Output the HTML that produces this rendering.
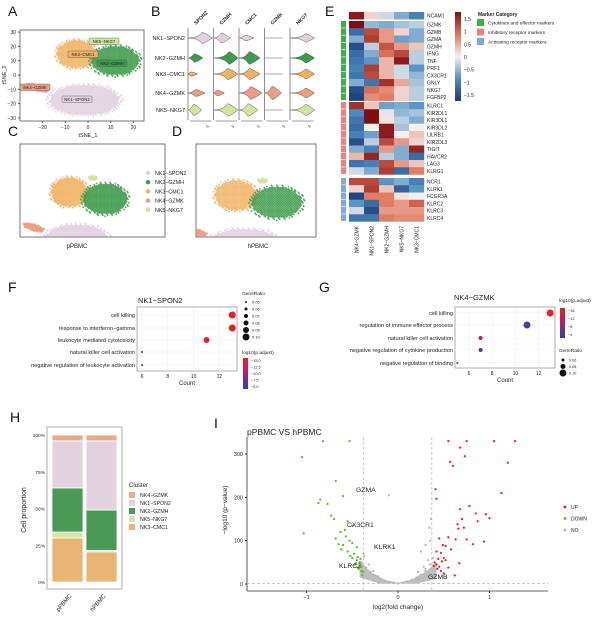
<!DOCTYPE html>
<html><head><meta charset="utf-8"><style>
body{margin:0;background:#fff}
svg{display:block;font-family:"Liberation Sans",sans-serif}
</style></head><body>
<svg id="fig" width="600" height="618" viewBox="0 0 600 618" xmlns="http://www.w3.org/2000/svg"></svg>
<script>
// ---------- DATA ----------
const clusterNames=["NK1-SPON2","NK2-GZMH","NK3-CMC1","NK4-GZMK","NK5-NKG7"];
const clusterColors=["#e2d0e0","#3c9a4a","#f0b262","#ec9c86","#cfe49c"];
const tsneCenterX=[-1.5,12,-5,-22,6];
const tsneCenterY=[-17.5,10,14.5,-9,24];
const tsneSpreadX=[17.5,12,10,5.5,2.5];
const tsneSpreadY=[12,11.5,11,2.5,1.8];
const violinGenes=["SPON2","GZMH","CMC1","GZMK","NKG7"];
const violinCenter=[[0.55,0.3,0.25,0,0.6],[0.25,0.6,0.4,0,0.6],[0.12,0.55,0.4,0,0.6],[0.3,0.15,0.45,0.3,0.6],[0.22,0.55,0.35,0,0.6]];
const violinHeight=[[0.8,0.7,0.4,0,0.6],[0.6,0.9,0.9,0,0.7],[0.3,0.8,0.8,0,0.7],[0.5,0.4,0.9,0.95,0.7],[0.8,0.9,0.9,0,0.8]];
const heatCols=["NK4-GZMK","NK1-SPON2","NK2-GZMH","NK5-NKG7","NK3-CMC1"];
const heatRows=["NCAM1","GZMK","GZMB","GZMA","GZMH","IFNG","TNF","PRF1","CX3CR1","GNLY","NKG7","FGFBP2","KLRC1","KIR2DL1","KIR3DL1","KIR3DL2","LILRB1","KIR2DL3","TIGIT","HAVCR2","LAG3","KLRG1","NCR1","KLRK1","FCGR3A","KLRC2","KLRC3","KLRC4"];
const heatGroup=[-1,0,0,0,0,0,0,0,0,0,0,0,1,1,1,1,1,1,1,1,1,1,2,2,2,2,2,2];
const heatValues=[[1.6,0.2,-0.2,-0.6,-1.0],[1.7,-0.5,-0.6,-0.4,-0.3],[-1.2,1.2,0.6,0.2,-0.6],[-0.6,1.3,0.6,-0.7,-0.6],[-1.5,-0.3,1.1,0.6,0.3],[-1.2,-0.6,0.9,1.2,-0.3],[-1.1,-0.8,0.4,1.6,-0.3],[-1.0,1.3,0.4,-0.2,-0.8],[-1.1,1.2,0.4,-0.2,-0.5],[-0.6,-1.1,1.4,0.5,-0.4],[-1.5,0.9,0.7,0.2,-0.3],[-1.6,0.7,0.8,0.2,-0.3],[1.4,0.3,-0.7,-0.6,-0.8],[-0.9,1.7,-0.1,-0.5,-0.4],[-1.1,1.7,0.1,-0.3,-0.6],[-1.2,0.0,1.6,-0.4,0.0],[-1.0,-0.7,1.6,0.0,0.3],[-1.5,-0.3,1.2,0.6,0.2],[-0.6,-1.0,0.6,-0.6,1.5],[0.4,1.5,-0.3,-0.6,-1.2],[-1.1,-1.0,1.2,0.6,0.3],[-0.2,-0.6,1.3,-1.2,0.8],[1.2,1.2,-0.8,-0.6,-1.0],[0.2,1.3,0.3,-1.3,-0.8],[-1.6,0.8,0.8,0.1,0.0],[-0.8,-1.2,0.8,0.6,1.0],[-0.2,-1.5,0.6,0.6,0.6],[-1.1,-1.1,0.8,0.7,0.7]];
const groupNames=["Cytokines and effector markers","Inhibitory receptor markers","Activating receptor markers"];
const groupColors=["#3fae49","#f08080","#7fa8dc"];
const fTerms=["cell killing","response to interferon−gamma","leukocyte mediated cytotoxicity","natural killer cell activation","negative regulation of leukocyte activation"];
const fCount=[13,13,11,6,6];
const fRatio=[0.10,0.10,0.09,0.05,0.05];
const fPadj=[-16,-16,-15,-7,-4];
const gTerms=["cell killing","regulation of immune effector process","natural killer cell activation","negative regulation of cytokine production","negative regulation of binding"];
const gCount=[13,11,7,7,5];
const gRatio=[0.10,0.10,0.07,0.07,0.05];
const gPadj=[-16,-6,-11,-5,-4];
const hSamples=["pPBMC","hPBMC"];
const hStackOrder=["NK3-CMC1","NK5-NKG7","NK2-GZMH","NK1-SPON2","NK4-GZMK"];
const hStackColors=["#e8b574","#d6e6a6","#4a9a55","#e2d2df","#e9a892"];
const hProp=[[0.30,0.04,0.30,0.32,0.04],[0.205,0.01,0.275,0.47,0.04]];
const hTicks=["0%","25%","50%","75%","100%"];
const volDownX=[-1.05,-1.03,-0.82,-0.53,-0.68,-0.87,-0.85,-0.77,-0.6,-0.73,-0.7,-0.55,-0.5,-0.63,-0.57,-0.68,-0.5,-0.6,-0.45,-0.55,-0.48,-0.62,-0.5,-0.45,-0.42,-0.47,-0.4,-0.43,-0.44,-0.52,-0.4,-0.46,-0.42,-0.38,-0.65,-0.58,-0.53,-0.41,-0.44,-0.39];
const volDownY=[293,117,330,330,238,187,195,185,203,158,150,145,135,120,110,105,95,90,85,75,70,80,60,55,50,45,40,35,62,65,30,48,42,28,92,125,100,58,38,20];
const volUpX=[0.55,0.75,1.05,1.28,0.68,0.73,0.57,0.6,1.2,1.13,0.41,0.42,0.78,0.68,0.85,0.96,1.0,0.87,0.7,0.65,0.72,0.66,0.45,0.55,0.63,0.75,0.82,0.94,0.49,0.52,0.58,0.42,0.47,0.5,0.44,0.48,0.52,0.4,0.42,0.45,0.43,0.47,0.5,0.39,0.67,0.62,0.55];
const volUpY=[330,330,330,330,315,295,282,273,280,210,219,197,180,173,163,161,152,145,150,138,130,128,105,108,103,103,92,98,90,88,80,75,72,60,58,52,55,50,45,40,35,30,25,42,48,20,38];
const volNoX=[-0.4,-0.35,-0.3,-0.25,-0.2,-0.15,-0.1,-0.05,0,0.05,0.1,0.15,0.2,0.25,0.3,0.35,0.38,-0.38,0.33,0.28,-0.32,-0.27,0.22,-0.22,0.36,0.34,0.3,0.25,-0.37,-0.1,0.3,0.35];
const volNoY=[50,38,28,20,12,8,4,2,1,3,6,10,15,22,30,45,60,70,55,40,45,30,28,18,150,130,90,75,65,205,35,100];
const volXTicks=[-1,0,1];
const volYTicks=[0,100,200,300];

// ---------- HELPERS ----------
const svg=document.getElementById('fig');
const NS='http://www.w3.org/2000/svg';
function el(tag,attrs,parent,txt){const e=document.createElementNS(NS,tag);for(const k in attrs)e.setAttribute(k,attrs[k]);if(txt!==undefined)e.textContent=txt;(parent||svg).appendChild(e);return e;}
function grp(name){const g=el('g',{});return g;}
function txt(p,x,y,s,size,opts){opts=opts||{};const t=el('text',Object.assign({x:x,y:y,'font-size':size,fill:opts.fill||'#222'},opts.a||{}),p,s);return t;}
function letter(s,x,y){const t=el('text',{x:x,y:y,'font-size':14,fill:'#111'},svg,s);}
function lerpColor(stops,v){for(let i=0;i<stops.length-1;i++){const a=stops[i],b=stops[i+1];if(v<=b[0]||i==stops.length-2){let t=(v-a[0])/(b[0]-a[0]);t=Math.max(0,Math.min(1,t));const c=a[1].map((x,j)=>Math.round(x+(b[1][j]-x)*t));return 'rgb('+c.join(',')+')';}}}
const heatStops=[[-1.7,[27,59,120]],[-0.85,[80,143,196]],[0,[245,240,238]],[0.85,[224,117,92]],[1.7,[127,14,18]]];
const padjStops=[[-16,[236,30,40]],[-10,[180,30,110]],[-4,[40,70,170]]];

// ---------- A / C / D tSNE ----------
function tsne(name,x0,y0,x1,y1,cx,cy,kx,ky){
  const g=grp(name);
  const r=el('rect',{x:x0,y:y0,width:x1-x0,height:y1-y0,fill:'#fff',stroke:'#777','stroke-width':1},g);
  
  const order=[0,2,1,4,3];
  for(const c of order){
    const pg=el('g',{fill:clusterColors[c],'fill-opacity':0.85},g);
    
    const sx=tsneSpreadX[c],sy=tsneSpreadY[c];const step=c>=3?0.55:0.75;
    let row=0;
    for(let yy=-sy;yy<=sy;yy+=step,row++){
      for(let xx=-sx+(row%2?step/2:0);xx<=sx;xx+=step){
        const q=(xx*xx)/(sx*sx)+(yy*yy)/(sy*sy);
        if(q>1)continue;
        if(q>0.75&&((row+Math.round(xx/step))%3)!==0)continue;
        let dx=xx,dy=yy; if(c===3){dy=yy-xx*0.35;}
        const px=cx+(tsneCenterX[c]+dx)*kx, py=cy-(tsneCenterY[c]+dy)*ky;
        if(px<x0+1||px>x1-1||py<y0+1||py>y1-1)continue;
        el('rect',{x:px-0.8,y:py-0.8,width:1.6,height:1.6},pg);
      }
    }
  }
  return g;
}
letter('A',8,16);
const gA=tsne('tsne-overview',20,30,144,121,88,75,2.27,1.43);
[-20,-10,0,10,20].forEach(v=>{const x=88+v*2.27;el('line',{x1:x,y1:121,x2:x,y2:123,stroke:'#555'},gA);txt(gA,x,129,String(v).replace('-','−'),5,{a:{'text-anchor':'middle'},name:'x-tick'});});
[30,20,10,0,-10,-20,-30].forEach(v=>{const y=75-v*1.43;el('line',{x1:18,y1:y,x2:20,y2:y,stroke:'#555'},gA);txt(gA,16,y+2,String(v).replace('-','−'),5,{a:{'text-anchor':'end'},name:'y-tick'});});
txt(gA,88,137,'tSNE_1',5.5,{a:{'text-anchor':'middle'},name:'x-axis-title'});
txt(gA,0,0,'tSNE_2',5.5,{a:{'text-anchor':'middle',transform:'translate(6,75) rotate(-90)'},name:'y-axis-title'});
const aLabels=[[4,89,38],[2,68,51],[1,97,60],[3,20,84],[0,62,96]];
aLabels.forEach(([c,x,y])=>{const b=el('rect',{x:x,y:y,width:30,height:6.5,fill:clusterColors[c],stroke:'#555','stroke-width':0.4,rx:1},gA);txt(gA,x+15,y+5,clusterNames[c].replace('-','−'),4.3,{a:{'text-anchor':'middle'},name:'cluster-label'});});

letter('C',8,136);
tsne('tsne-ppbmc',20,144,165,237,80,214,2.1,1.5);
txt(svg,77,248,'pPBMC',6,{a:{'text-anchor':'middle'},name:'ppbmc-caption'});
letter('D',172,136);
tsne('tsne-hpbmc',196,144,316,237,248,218,2.4,1.55);
txt(svg,258,248,'hPBMC',6,{a:{'text-anchor':'middle'},name:'hpbmc-caption'});
const legC=grp('cluster-legend');
clusterNames.forEach((n,i)=>{const y=173+i*9.2;const d=el('circle',{cx:148,cy:y,r:2.2,fill:clusterColors[i]},legC);txt(legC,155,y+2,n.replace('-','−'),5.3,{name:'legend-entry'});});

// ---------- B violin ----------
letter('B',151,16);
const gB=grp('violin-plot');
const colX=[188,213.5,239,264.5,290],colW=25.5,rowY=[38,58,74,93,110];
violinGenes.forEach((gname,j)=>{const x=colX[j];
  if(j>0)el('line',{x1:x,y1:28,x2:x,y2:120,stroke:'#444','stroke-width':0.6},gB);
  txt(gB,0,0,gname,5,{a:{transform:'translate('+(x+8)+',25) rotate(-45)','font-weight':'bold'},name:'gene-header'});
  el('line',{x1:x+2,y1:121,x2:x+colW-2,y2:121,stroke:'#444','stroke-width':0.5},gB);
  txt(gB,0,0,'5',4,{a:{transform:'translate('+(x+colW-6)+',128) rotate(-45)'},name:'violin-tick'});
});
el('line',{x1:188,y1:28,x2:188,y2:120,stroke:'#444','stroke-width':0.6},gB);
clusterNames.forEach((n,i)=>{const y=rowY[i];
  txt(gB,185,y+2,n.replace('-','−'),5.5,{a:{'text-anchor':'end'},name:'violin-row-label'});
  violinGenes.forEach((gname,j)=>{const x=colX[j];const c=violinCenter[i][j],h=violinHeight[i][j];
    if(h===0){el('line',{x1:x,y1:y,x2:x+colW*0.7,y2:y,stroke:'#555','stroke-width':0.6},gB);return;}
    const cx=x+c*colW, hh=h*7, a=x+0.5, b=Math.min(x+colW-1,cx+(cx-a)*0.6+5);
    const p=el('path',{d:`M${a},${y} Q${cx-4},${y} ${cx},${y-hh} Q${cx+2},${y-hh} ${b},${y} Q${cx+2},${y+hh} ${cx},${y+hh} Q${cx-4},${y} ${a},${y}Z`,fill:clusterColors[i],stroke:'#333','stroke-width':0.4},gB);
    
  });
});

// ---------- E heatmap ----------
letter('E',325,16);
const gE=grp('heatmap');
const hx0=349,cw=15,rh=7.25;
function rowTop(r){if(r===0)return 12;const g=heatGroup[r];const start=[21,102,178][g];const first=heatGroup.indexOf(g);return start+(r-first)*rh;}
heatRows.forEach((name,r)=>{const y=rowTop(r);
  heatValues[r].forEach((v,c)=>{const cell=el('rect',{x:hx0+c*cw,y:y,width:cw+0.2,height:rh+0.2,fill:lerpColor(heatStops,v)},gE);});
  if(heatGroup[r]>=0){const a=el('rect',{x:341,y:y,width:5,height:rh-0.6,fill:groupColors[heatGroup[r]]},gE);}
  txt(gE,427,y+5.5,name,5,{name:'heat-row-label'});
});
heatCols.forEach((n,c)=>txt(gE,0,0,n.replace('-','−'),5,{a:{transform:'translate('+(hx0+c*cw+9.5)+',226) rotate(-90)','text-anchor':'end'},name:'heat-col-label'}));
const cb=el('defs',{},gE);const lg=el('linearGradient',{id:'hg',x1:0,y1:1,x2:0,y2:0},cb);
heatStops.forEach(s=>el('stop',{offset:((s[0]+1.7)/3.4),'stop-color':'rgb('+s[1].join(',')+')'},lg));
el('rect',{x:455,y:12,width:6,height:89,fill:'url(#hg)'},gE);
[1.5,1,0.5,0,-0.5,-1,-1.5].forEach(v=>txt(gE,464,57-v*25.3+2,String(v).replace('-','−'),5,{name:'colorbar-tick'}));
txt(gE,478,16,'Marker Category',5,{a:{'font-weight':'bold'},name:'legend-title'});
groupNames.forEach((n,i)=>{const y=19+i*9.5;el('rect',{x:477,y:y,width:7,height:7,fill:groupColors[i]},gE);txt(gE,488,y+5.5,n,4.8,{name:'legend-entry'});});

// ---------- F / G dot plots ----------
function dotplot(name,terms,counts,ratios,padj,box,xmap,rowY,title,tx,ty,ticks){
  const g=grp(name);
  el('rect',{x:box[0],y:box[1],width:box[2]-box[0],height:box[3]-box[1],fill:'#fff',stroke:'#999','stroke-width':0.8},g);
  ticks.forEach(t=>{const x=xmap(t);el('line',{x1:x,y1:box[1],x2:x,y2:box[3],stroke:'#eee','stroke-width':0.6},g);txt(g,x,box[3]+7,String(t),5,{a:{'text-anchor':'middle'},name:'x-tick'});});
  terms.forEach((t,i)=>{const y=rowY[i];el('line',{x1:box[0],y1:y,x2:box[2],y2:y,stroke:'#eee','stroke-width':0.6},g);txt(g,box[0]-2,y+2,t,5.6,{a:{'text-anchor':'end'},name:'term-label'});
    const d=el('circle',{cx:xmap(counts[i]),cy:y,r:1+(ratios[i]-0.05)*50,fill:lerpColor(padjStops,padj[i])},g);});
  txt(g,tx,ty,title,7.5,{name:'plot-title'});
  txt(g,(box[0]+box[2])/2,box[3]+14,'Count',6,{a:{'text-anchor':'middle'},name:'x-axis-title'});
  return g;
}
letter('F',8,292);
const fMap=c=>142+(c-6)*12.9;
const gF=dotplot('go-dotplot-nk1',fTerms,fCount,fRatio,fPadj,[137,307,237,371],fMap,[315,328,340,352,365],'NK1−SPON2',138,303,[6,8,10,12]);
txt(gF,242,295,'GeneRatio',4.8,{name:'legend-title'});
[0.05,0.06,0.07,0.08,0.09,0.10].forEach((v,i)=>{const y=302+i*7;el('circle',{cx:246,cy:y,r:1+(v-0.05)*50,fill:'#111'},gF);txt(gF,252,y+1.7,v.toFixed(2),4,{name:'legend-entry'});});
txt(gF,242,354,'log10(p.adjust)',4.8,{name:'legend-title'});
const d2=el('defs',{},gF);const lg2=el('linearGradient',{id:'pg',x1:0,y1:0,x2:0,y2:1},d2);
padjStops.forEach((s,i)=>el('stop',{offset:i/2,'stop-color':'rgb('+s[1].join(',')+')'},lg2));
el('rect',{x:243,y:358,width:5,height:31,fill:'url(#pg)'},gF);
['−15.0','−12.5','−10.0','−7.5','−5.0'].forEach((s,i)=>txt(gF,251,362+i*6.5,s,3.8,{name:'colorbar-tick'}));

letter('G',319,292);
const gMap=c=>469+(c-6)*11.6;
const gG=dotplot('go-dotplot-nk4',gTerms,gCount,gRatio,gPadj,[455,307,555,368],gMap,[313,325,338,350,363],'NK4−GZMK',454,300,[6,8,10,12]);
txt(gG,559,302,'log10(p.adjust)',4.8,{name:'legend-title'});
el('rect',{x:560,y:308,width:5,height:30,fill:'url(#pg)'},gG);
['−16','−12','−8','−4'].forEach((s,i)=>txt(gG,568,312+i*8,s,3.8,{name:'colorbar-tick'}));
txt(gG,559,352,'GeneRatio',4.8,{name:'legend-title'});
[0.06,0.08,0.10].forEach((v,i)=>{const y=360+i*6.5;el('circle',{cx:563,cy:y,r:1+(v-0.05)*50,fill:'#111'},gG);txt(gG,569,y+1.7,v.toFixed(2),3.8,{name:'legend-entry'});});

// ---------- H stacked bars ----------
letter('H',10,422);
const gH=grp('stacked-bar-chart');
el('rect',{x:47,y:427,width:75,height:162,fill:'#fff',stroke:'#999','stroke-width':0.8},gH);
const hY=p=>582-p*147;
hTicks.forEach((t,i)=>txt(gH,45,hY(i*0.25)+2,t,4.8,{a:{'text-anchor':'end'},name:'y-tick'}));
hSamples.forEach((s,k)=>{const x=52+k*34;let acc=0;
  hProp[k].forEach((p,j)=>{const r=el('rect',{x:x,y:hY(acc+p),width:31,height:p*147,fill:hStackColors[j],stroke:'#fff','stroke-width':0.8},gH);acc+=p;});
  txt(gH,0,0,s,6,{a:{transform:'translate('+(x+20)+',596) rotate(-50)','text-anchor':'end'},name:'x-tick'});
});
txt(gH,0,0,'Cell proportion',7,{a:{transform:'translate(26,510) rotate(-90)','text-anchor':'middle'},name:'y-axis-title'});
txt(gH,129,487,'Cluster',6,{name:'legend-title'});
const legOrder=[4,3,2,1,0];
legOrder.forEach((j,i)=>{const y=492+i*8;el('rect',{x:129,y:y,width:6,height:6,fill:hStackColors[j]},gH);txt(gH,140,y+5,hStackOrder[j].replace('-','−'),5.2,{name:'legend-entry'});});

// ---------- I volcano ----------
letter('I',214,428);
const gI=grp('volcano-plot');
const vx=v=>398+v*91.5, vy=v=>584-v*0.433;
txt(gI,247,435,'pPBMC VS hPBMC',8.5,{name:'plot-title'});
el('line',{x1:247,y1:437,x2:247,y2:591,stroke:'#333','stroke-width':0.8},gI);
el('line',{x1:247,y1:591,x2:548,y2:591,stroke:'#333','stroke-width':0.8},gI);
el('line',{x1:vx(-0.38),y1:437,x2:vx(-0.38),y2:591,stroke:'#aaa','stroke-width':0.6,'stroke-dasharray':'3,2'},gI);
el('line',{x1:vx(0.37),y1:437,x2:vx(0.37),y2:591,stroke:'#aaa','stroke-width':0.6,'stroke-dasharray':'3,2'},gI);
el('line',{x1:247,y1:vy(1.3),x2:548,y2:vy(1.3),stroke:'#aaa','stroke-width':0.6,'stroke-dasharray':'3,2'},gI);
volXTicks.forEach(t=>{el('line',{x1:vx(t),y1:591,x2:vx(t),y2:593,stroke:'#333'},gI);txt(gI,vx(t),599,String(t).replace('-','−'),5.5,{a:{'text-anchor':'middle'},name:'x-tick'});});
volYTicks.forEach(t=>{el('line',{x1:245,y1:vy(t),x2:247,y2:vy(t),stroke:'#333'},gI);txt(gI,243,vy(t)+2,String(t),5.5,{a:{'text-anchor':'end'},name:'y-tick'});});
txt(gI,398,609,'log2(fold change)',6.5,{a:{'text-anchor':'middle'},name:'x-axis-title'});
txt(gI,0,0,'−log10 (p−value)',6.5,{a:{transform:'translate(227,510) rotate(-90)','text-anchor':'middle'},name:'y-axis-title'});
const vmass=el('path',{d:`M${vx(-0.42)},${vy(55)} L${vx(-0.3)},${vy(28)} L${vx(-0.15)},${vy(10)} L${vx(0)},${vy(3)} L${vx(0.15)},${vy(10)} L${vx(0.3)},${vy(28)} L${vx(0.42)},${vy(50)} L${vx(0.42)},${vy(12)} L${vx(0.2)},${vy(1)} L${vx(-0.2)},${vy(1)} L${vx(-0.42)},${vy(15)}Z`,fill:'#bdbdbd'},gI);

function vpts(xs,ys,col,nm){const g=el('g',{fill:col},gI);xs.forEach((x,i)=>el('circle',{cx:vx(x),cy:Math.max(437,vy(ys[i])),r:1.1},g));}
vpts(volNoX,volNoY,'#b5b5b5','points-no');
vpts(volDownX,volDownY,'#5ab82a','points-down');
vpts(volUpX,volUpY,'#ee1c1c','points-up');
[['GZMA',356,492],['CX3CR1',347,527],['KLRK1',374,549],['KLRC2',339,568],['GZMB',428,579]].forEach(([s,x,y])=>txt(gI,x,y,s,6.8,{name:'gene-label'}));
[['UP','#ee1c1c'],['DOWN','#5ab82a'],['NO','#b5b5b5']].forEach(([s,c],i)=>{const y=507+i*11.5;el('circle',{cx:565,cy:y,r:1.4,fill:c},gI);txt(gI,571,y+2,s,5,{name:'legend-entry'});});
</script>
</body></html>
